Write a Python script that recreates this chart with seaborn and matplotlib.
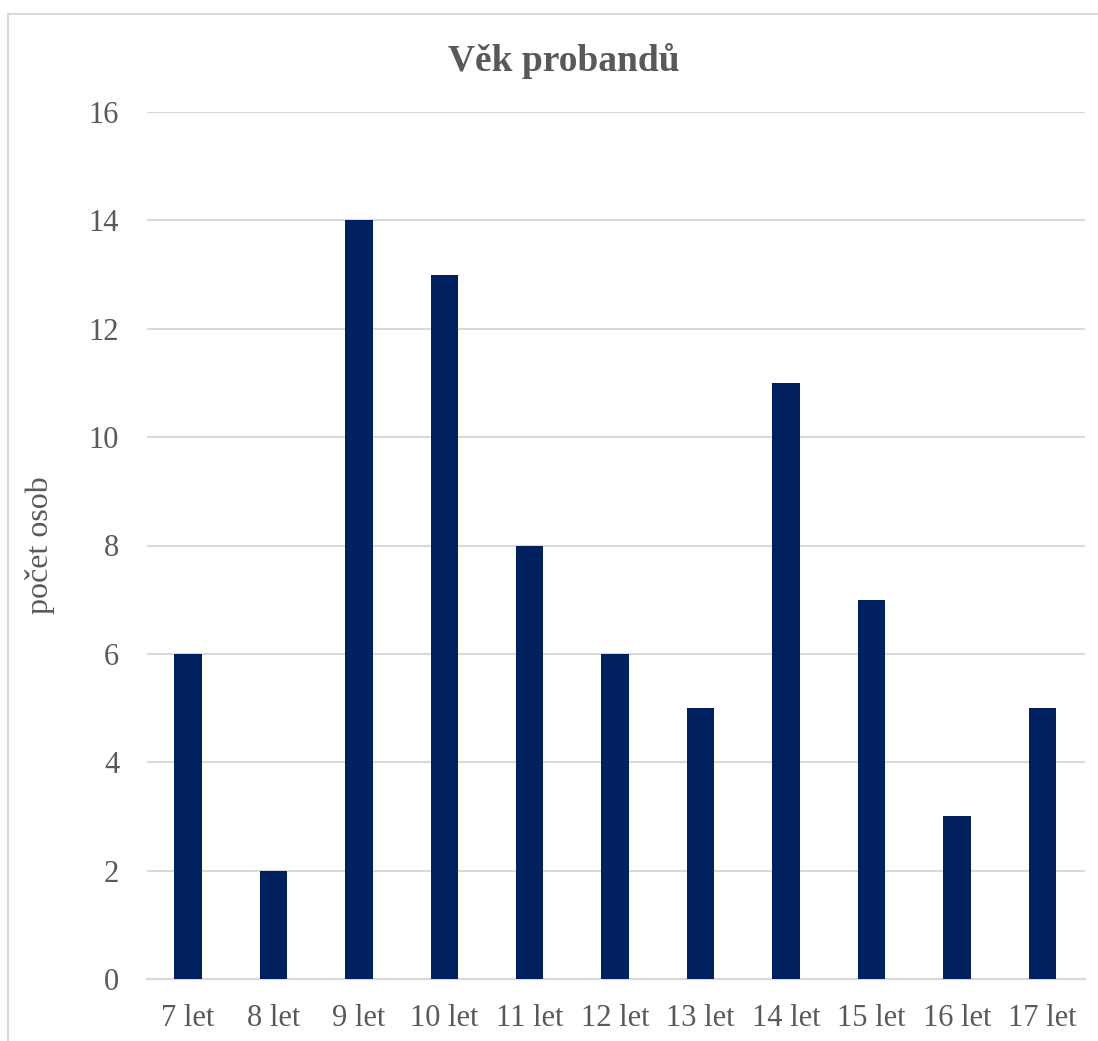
import matplotlib
matplotlib.use("Agg")
import matplotlib.pyplot as plt
import seaborn as sns
import pandas as pd
from matplotlib.patches import Rectangle

categories = ["7 let", "8 let", "9 let", "10 let", "11 let", "12 let", "13 let", "14 let", "15 let", "16 let", "17 let"]
values = [6, 2, 14, 13, 8, 6, 5, 11, 7, 3, 5]
yticks = [0, 2, 4, 6, 8, 10, 12, 14, 16]

sns.set_theme(style="white")
plt.rcParams['font.family'] = ['Liberation Serif', 'DejaVu Serif']

df = pd.DataFrame({"kat": categories, "pocet": values})

fig = plt.figure(figsize=(10.98, 10.41), dpi=100)
ax = fig.add_axes([147/1098, 62/1041, (1085-147)/1098, (979-112)/1041])

sns.barplot(data=df, x="kat", y="pocet", color="#002060", saturation=1, width=0.32,
            linewidth=0, ax=ax, zorder=3)

text_color = "#595959"
ax.set_ylim(0, 16)
ax.set_xlim(-0.48, 10.5)
ax.set_yticks(yticks)
ax.yaxis.grid(True, color="#d9d9d9", linewidth=1.5, zorder=0)
ax.set_axisbelow(True)
for s in ["top", "right", "left"]:
    ax.spines[s].set_visible(False)
ax.spines["bottom"].set_color("#d9d9d9")
ax.spines["bottom"].set_linewidth(1.5)
ax.tick_params(axis="both", length=0, labelsize=22, colors=text_color)
ax.tick_params(axis="y", pad=20)
ax.tick_params(axis="x", pad=18)
ax.set_xlabel("")
ax.set_ylabel("počet osob", fontsize=23, color=text_color)
ax.yaxis.set_label_coords((55 - 147) / 938, 0.5)

fig.text(0.5 + 15/1098, 1 - 61/1041, "Věk probandů", ha="center", va="center",
         fontsize=27, fontweight="bold", color=text_color)

fig.patches.append(Rectangle((8/1098, -0.1), 1.2, 1 - 14/1041 + 0.1, transform=fig.transFigure,
                             fill=False, edgecolor="#d9d9d9", linewidth=1.5))

fig.savefig("out.png", dpi=100)
